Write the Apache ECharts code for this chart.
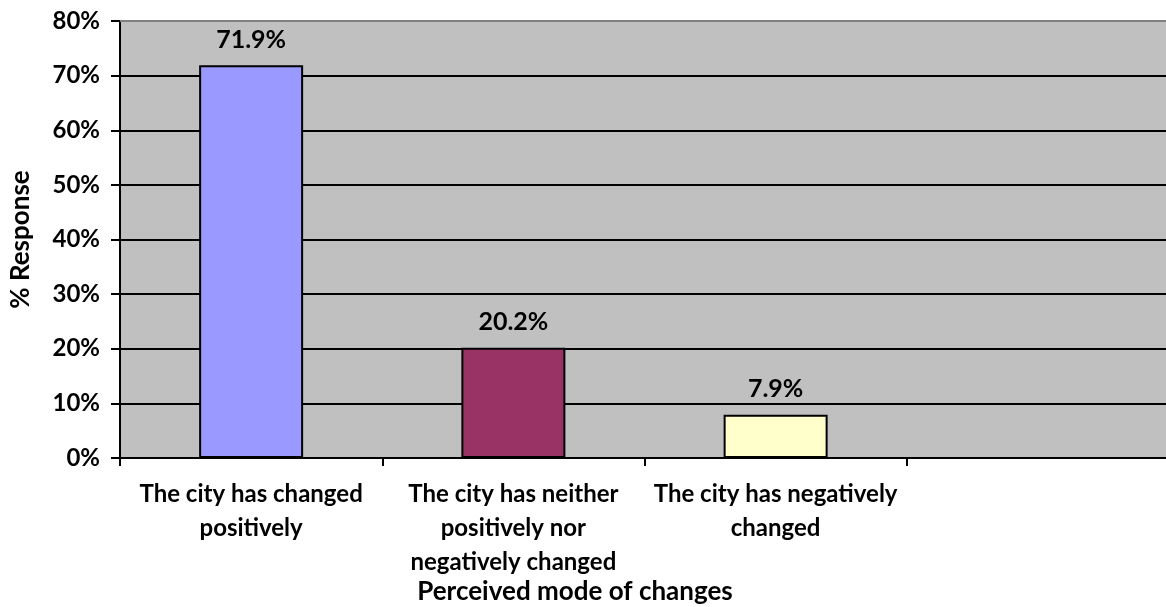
<!DOCTYPE html>
<html>
<head>
<meta charset="utf-8">
<script src="https://cdn.jsdelivr.net/npm/echarts@6/dist/echarts.min.js"></script>
<style>
  html, body { margin: 0; padding: 0; background: #fff; overflow: hidden; }
  /* the plot area runs just past the right edge of the window */
  #chart { width: 1169px; height: 607px; }
</style>
</head>
<body>
<div id="chart"></div>
<script>
// Survey responses: perceived mode of change in the city
const categories = [
  'The city has changed\npositively',
  'The city has neither\npositively nor\nnegatively changed',
  'The city has negatively\nchanged',
  ''
];
const responses = [71.9, 20.2, 7.9];
const barColors = ['#9999FF', '#993366', '#FFFFCC'];
const yTicks = [0, 10, 20, 30, 40, 50, 60, 70, 80];

const FONT = 'Lato';

const chart = echarts.init(document.getElementById('chart'));
chart.setOption({
  animation: false,
  textStyle: { fontFamily: FONT },
  title: {
    text: 'Perceived mode of changes',
    left: 570,
    top: 574,
    textAlign: 'center',
    textStyle: { fontFamily: FONT, fontSize: 26, fontWeight: 'bold', color: '#000' }
  },
  grid: {
    left: 120, right: 0, top: 21, bottom: 149,
    show: true, backgroundColor: '#C0C0C0', borderWidth: 0
  },
  xAxis: {
    type: 'category',
    data: categories,
    axisLine: { show: true, lineStyle: { color: '#000', width: 2 } },
    axisTick: { show: true, length: 8, alignWithLabel: false, lineStyle: { color: '#000', width: 2 } },
    axisLabel: {
      interval: 0, margin: 19, color: '#000',
      fontFamily: FONT, fontSize: 24, fontWeight: 'bold', lineHeight: 34, align: 'center'
    },
    splitLine: { show: false }
  },
  yAxis: {
    type: 'value',
    min: yTicks[0],
    max: yTicks[yTicks.length - 1],
    interval: 10,
    name: '% Response',
    nameLocation: 'middle',
    nameGap: 86,
    nameTextStyle: { fontFamily: FONT, fontSize: 26, fontWeight: 'bold', color: '#000' },
    axisLine: { show: true, lineStyle: { color: '#000', width: 2 } },
    axisTick: { show: true, inside: false, length: 9, lineStyle: { color: '#000', width: 2 } },
    axisLabel: {
      margin: 20, color: '#000', fontFamily: FONT, fontSize: 24, fontWeight: 'bold',
      formatter: v => v + '%'
    },
    splitLine: { show: true, lineStyle: { color: '#000', width: 2 } }
  },
  series: [{
    type: 'bar',
    barWidth: 104,
    data: responses.map((v, i) => ({
      value: v,
      itemStyle: { color: barColors[i], borderColor: '#000', borderWidth: 2 }
    })),
    label: {
      show: true, position: 'top', distance: 13, color: '#000',
      fontFamily: FONT, fontSize: 25, fontWeight: 'bold',
      formatter: p => p.value.toFixed(1) + '%'
    }
  }],
  graphic: [{
    type: 'line',
    shape: { x1: 120, y1: 21, x2: 1169, y2: 21 },
    style: { stroke: '#808080', lineWidth: 2 },
    z: 10
  }]
});
</script>
</body>
</html>
